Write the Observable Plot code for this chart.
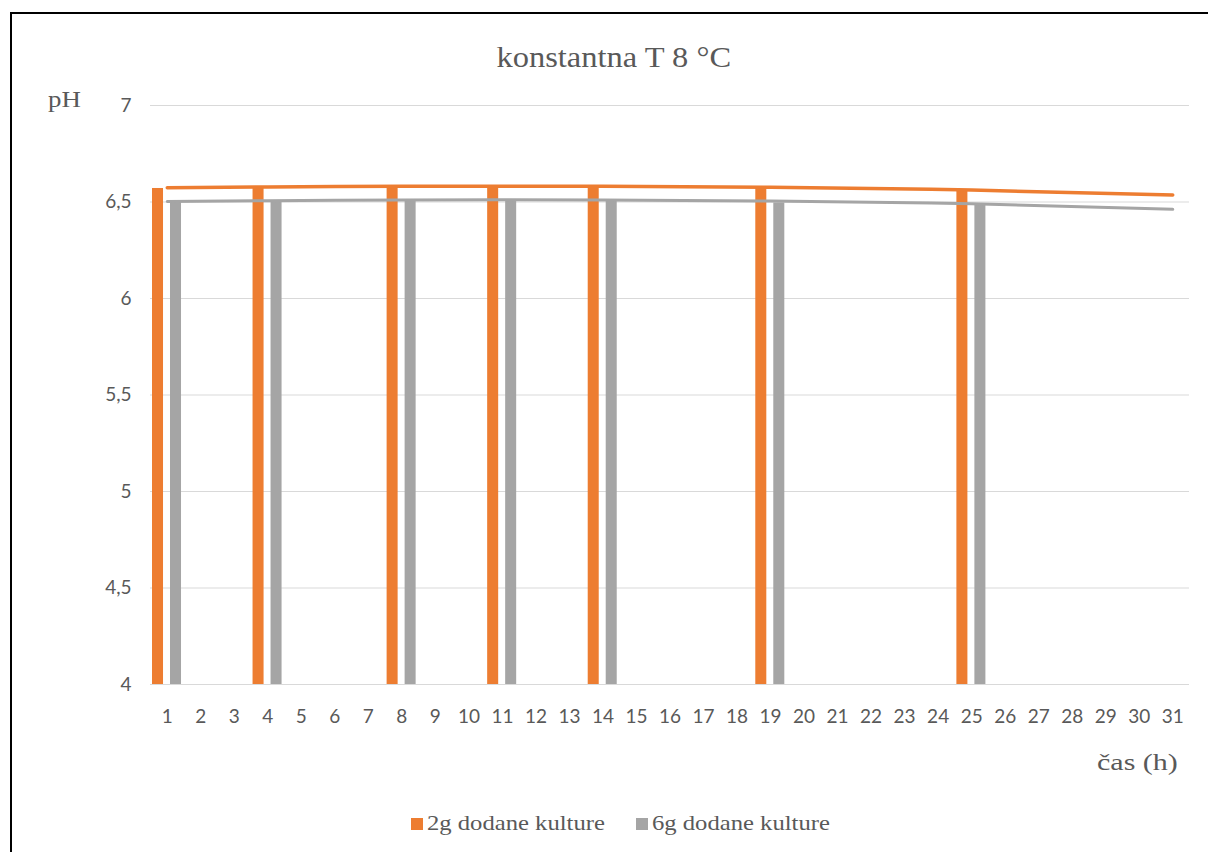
<!DOCTYPE html>
<html>
<head>
<meta charset="utf-8">
<script src="https://cdn.jsdelivr.net/npm/d3@7"></script>
<script src="https://cdn.jsdelivr.net/npm/@observablehq/plot@0.6"></script>
<style>
  html, body { margin: 0; padding: 0; background: #fff; width: 1208px; height: 852px; overflow: hidden; }
  #frame { position: absolute; left: 10px; top: 12px; width: 1300px; height: 900px; border-top: 2px solid #000; border-left: 2px solid #000; }
  #chart { position: absolute; left: 0; top: 0; }
  .t { position: absolute; font-family: "Liberation Serif", "Times New Roman", serif; color: #595959; white-space: nowrap; line-height: 1.15; }
  .s { display: inline-block; transform: scaleX(1.12); transform-origin: left center; }
  .sw { display: inline-block; width: 12px; height: 12px; margin-right: 4px; vertical-align: 0px; }
</style>
</head>
<body>
<div id="frame"></div>
<div id="chart"></div>
<div class="t" style="left:0;width:1228px;text-align:center;top:41px;font-size:29px;"><span class="s" style="transform-origin:center center;">konstantna T 8 °C</span></div>
<div class="t" style="left:48px;top:86px;font-size:24px;"><span class="s">pH</span></div>
<div class="t" style="left:1097px;top:749px;font-size:24px;"><span class="s" style="transform:scaleX(1.25);">čas (h)</span></div>
<div class="t" style="left:411px;top:810px;font-size:22px;"><span class="sw" style="background:#ED7D31"></span><span class="s">2g dodane kulture</span></div>
<div class="t" style="left:636px;top:810px;font-size:22px;"><span class="sw" style="background:#A5A5A5"></span><span class="s">6g dodane kulture</span></div>
<script>
const categories = ["1","2","3","4","5","6","7","8","9","10","11","12","13","14","15","16","17","18","19","20","21","22","23","24","25","26","27","28","29","30","31"];
const measuredAt = ["1","4","8","11","14","19","25"];
const ph2g = [6.57, 6.58, 6.58, 6.58, 6.58, 6.57, 6.555];
const ph6g = [6.50, 6.505, 6.505, 6.51, 6.51, 6.495, 6.49];
const trendAt = ["1","4","8","11","14","19","25","31"];
const trend2g = [6.574, 6.578, 6.581, 6.582, 6.581, 6.576, 6.562, 6.536];
const trend6g = [6.503, 6.507, 6.511, 6.512, 6.511, 6.505, 6.491, 6.462];
const yTicks = [4, 4.5, 5, 5.5, 6, 6.5, 7];
const series = ["2g dodane kulture", "6g dodane kulture"];
const colors = ["#ED7D31", "#A5A5A5"];

const bars2 = measuredAt.map((t, i) => ({t, v: ph2g[i]}));
const bars6 = measuredAt.map((t, i) => ({t, v: ph6g[i]}));
const tr2 = trendAt.map((t, i) => ({t, v: trend2g[i]}));
const tr6 = trendAt.map((t, i) => ({t, v: trend6g[i]}));

const chart = Plot.plot({
  width: 1208,
  height: 852,
  marginTop: 105,
  marginBottom: 168,
  marginLeft: 150,
  marginRight: 19,
  style: { fontFamily: "Lato, 'Open Sans', sans-serif", fontSize: "19px", color: "#595959", background: "transparent" },
  x: { type: "band", domain: categories, padding: 0, round: false },
  y: { domain: [4, 7] },
  marks: [
    Plot.ruleY(yTicks, { stroke: "#d9d9d9", strokeWidth: 1 }),
    Plot.barY(bars2, { x: "t", y1: 4, y2: "v", fill: colors[0], insetLeft: 2, insetRight: 20.5 }),
    Plot.barY(bars6, { x: "t", y1: 4, y2: "v", fill: colors[1], insetLeft: 20, insetRight: 2.5 }),
    Plot.line(tr6, { x: "t", y: "v", stroke: colors[1], strokeWidth: 3, curve: "natural" }),
    Plot.line(tr2, { x: "t", y: "v", stroke: colors[0], strokeWidth: 3.5, curve: "natural" }),
    Plot.axisY({ ticks: yTicks, tickSize: 0, tickPadding: 19, tickFormat: d => String(d).replace(".", ","), label: null }),
    Plot.axisX({ tickSize: 0, tickPadding: 25, label: null })
  ]
});
document.getElementById("chart").appendChild(chart);
</script>
</body>
</html>
